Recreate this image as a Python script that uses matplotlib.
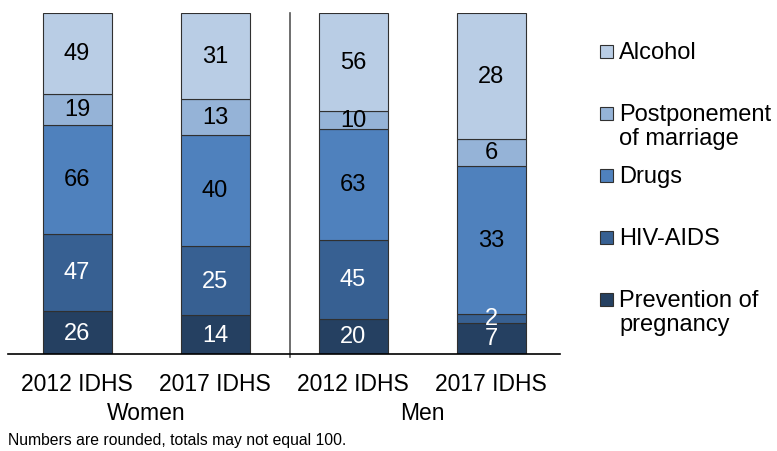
import matplotlib
matplotlib.use('Agg')
import matplotlib.pyplot as plt
from matplotlib.patches import Rectangle
import numpy as np

plt.rcParams['font.family'] = ['Liberation Sans', 'DejaVu Sans']

# data (bottom to top of each bar)
surveys = ['2012 IDHS', '2017 IDHS', '2012 IDHS', '2017 IDHS']
groups = ['Women', 'Men']
topics = ['Prevention of\npregnancy', 'HIV-AIDS', 'Drugs', 'Postponement\nof marriage', 'Alcohol']
prevention = [26, 14, 20, 7]
hiv_aids = [47, 25, 45, 2]
drugs = [66, 40, 63, 33]
postponement = [19, 13, 10, 6]
alcohol = [49, 31, 56, 28]

colors = ['#254061', '#376092', '#4F81BD', '#95B3D7', '#B9CDE5']
text_colors = ['white', 'white', 'black', 'black', 'black']

series = np.array([prevention, hiv_aids, drugs, postponement, alcohol], dtype=float)
totals = series.sum(axis=0)
shares = series / totals * 100

fig = plt.figure(figsize=(7.77, 4.52), dpi=100)
ax = fig.add_axes([8 / 777, 97 / 452, 552 / 777, 341 / 452])

x = np.arange(len(surveys))
bottom = np.zeros(len(surveys))
for i in range(len(topics)):
    ax.bar(x, shares[i], 0.5, bottom=bottom, color=colors[i],
           edgecolor='#303030', linewidth=0.8)
    for j in range(len(surveys)):
        ax.text(x[j], bottom[j] + shares[i][j] / 2, str(int(series[i][j])),
                ha='center', va='center', fontsize=17, color=text_colors[i])
    bottom += shares[i]

ax.set_xlim(-0.5, 3.5)
ax.set_ylim(0, 100)
ax.set_yticks([])
ax.set_xticks(x)
ax.set_xticklabels(surveys, fontsize=16.5)
ax.tick_params(axis='x', length=0, pad=13)
for s in ['top', 'left', 'right']:
    ax.spines[s].set_visible(False)
ax.spines['bottom'].set_linewidth(1.2)

# divider between women and men
ax.plot([1.54, 1.54], [-0.8, 100], color='#555555', linewidth=1.2, clip_on=False)

# group labels
trans = ax.get_xaxis_transform()
ax.text(0.5, -0.172, groups[0], transform=trans, ha='center', va='center', fontsize=16.5)
ax.text(2.5, -0.172, groups[1], transform=trans, ha='center', va='center', fontsize=16.5)

# legend drawn by hand (handle aligned with first line of each label)
W, H = 777, 452
for k, i in enumerate(range(len(topics) - 1, -1, -1)):
    yc = 52 + 62 * k
    fig.patches.append(Rectangle((600 / W, 1 - (yc + 6.5) / H), 13 / W, 13 / H,
                                 transform=fig.transFigure, facecolor=colors[i],
                                 edgecolor='#303030', linewidth=0.8))
    fig.text(619 / W, 1 - (yc - 10) / H, topics[i], fontsize=17, va='top', ha='left',
             linespacing=1.12)

fig.text(8 / W, 1 - 441 / H, 'Numbers are rounded, totals may not equal 100.',
         fontsize=11.3, va='center', ha='left')

fig.savefig('out.png', dpi=100)
